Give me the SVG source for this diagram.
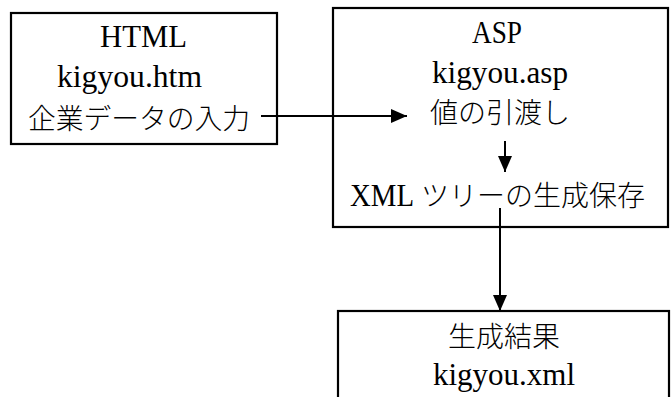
<svg xmlns="http://www.w3.org/2000/svg" width="672" height="397" viewBox="0 0 672 397">
<style>
.box{fill:#fff;stroke:#000;stroke-width:2.2}
.t{font-family:"Liberation Serif","Noto Sans CJK JP",serif;font-size:28px;fill:#000}
.l{font-size:32px}
.j{font-family:"Noto Sans CJK JP",sans-serif;font-weight:300}
.c{stroke:#000;stroke-width:2;fill:none}
</style>
<defs>
<marker id="ah" markerUnits="userSpaceOnUse" markerWidth="16" markerHeight="14" refX="16" refY="7" orient="auto">
<path d="M0,0 L16,7 L0,14 Z" fill="#000"/>
</marker>
</defs>
<rect width="672" height="397" fill="#fff"/>
<g id="html">
<rect class="box" x="11" y="13" width="266" height="131"/>
<text class="t l" x="143.5" y="47" text-anchor="middle" textLength="87" lengthAdjust="spacingAndGlyphs">HTML</text>
<text class="t l" x="57" y="87" textLength="145" lengthAdjust="spacingAndGlyphs">kigyou.htm</text>
<text class="t j" x="28" y="129" textLength="222" lengthAdjust="spacingAndGlyphs">企業データの入力</text>
</g>
<g id="asp">
<rect class="box" x="333" y="8" width="335" height="219"/>
<text class="t l" x="497" y="43" text-anchor="middle" textLength="50" lengthAdjust="spacingAndGlyphs">ASP</text>
<text class="t l" x="432" y="83" textLength="136" lengthAdjust="spacingAndGlyphs">kigyou.asp</text>
<text class="t j" x="430" y="123" textLength="140" lengthAdjust="spacingAndGlyphs">値の引渡し</text>
<text class="t l" x="350" y="206" textLength="64" lengthAdjust="spacingAndGlyphs">XML</text>
<text class="t j" x="421" y="206" textLength="224" lengthAdjust="spacingAndGlyphs">ツリーの生成保存</text>
</g>
<g id="result">
<rect class="box" x="338" y="311" width="331" height="100"/>
<text class="t j" x="448" y="347" textLength="112" lengthAdjust="spacingAndGlyphs">生成結果</text>
<text class="t l" x="433" y="385" textLength="142" lengthAdjust="spacingAndGlyphs">kigyou.xml</text>
</g>
<g id="connectors">
<line class="c" x1="261" y1="116" x2="407" y2="116" marker-end="url(#ah)"/>
<line class="c" x1="505" y1="141" x2="505" y2="172" marker-end="url(#ah)"/>
<line class="c" x1="500" y1="208" x2="500" y2="311" marker-end="url(#ah)"/>
</g>
</svg>
